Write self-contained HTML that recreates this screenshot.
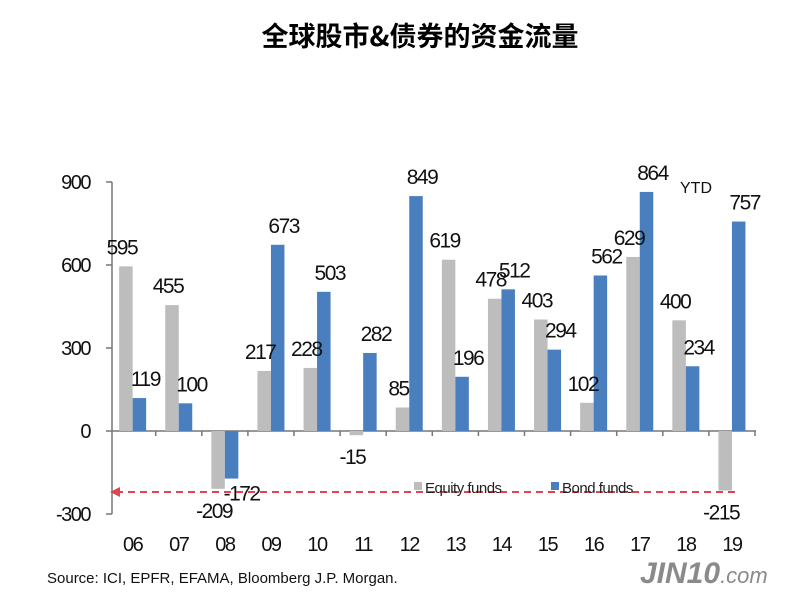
<!DOCTYPE html>
<html><head><meta charset="utf-8"><style>
body{margin:0;background:#fff}
svg text{font-family:"Liberation Sans Narrow","Liberation Sans",sans-serif}
.num{letter-spacing:-1.5px}
</style></head><body>
<svg width="800" height="596" viewBox="0 0 800 596">
<text x="420" y="46" text-anchor="middle" font-size="27" font-weight="bold" style="font-family:'Noto Sans CJK SC','Liberation Sans',sans-serif">全球股市&amp;债券的资金流量</text>
<g id="axes"></g>
<g id="bars"></g>
<g id="labels"></g>
<line x1="116" y1="492" x2="735" y2="492" stroke="#e0454f" stroke-width="2" stroke-dasharray="7,5"/>
<polygon points="110,492 120,487 120,497" fill="#e0454f"/>
<rect x="414" y="482" width="8" height="8" fill="#bdbdbd"/>
<text x="425" y="493" font-size="15" fill="#222" style="letter-spacing:-0.5px">Equity funds</text>
<rect x="551" y="482" width="8" height="8" fill="#4a7fbf"/>
<text x="562" y="493" font-size="15" fill="#222" style="letter-spacing:-0.5px">Bond funds</text>
<text x="680" y="193" font-size="16" fill="#111">YTD</text>
<text x="47" y="583" font-size="15" fill="#111" style="font-family:'Liberation Sans',sans-serif">Source:  ICI, EPFR, EFAMA, Bloomberg J.P. Morgan.</text>
<text x="640" y="583" font-size="30" font-weight="bold" font-style="italic" fill="#8a8a8a" style="font-family:'Liberation Sans',sans-serif">JIN10<tspan font-size="22" font-weight="normal">.com</tspan></text>
</svg>
<script>
const categories=["06","07","08","09","10","11","12","13","14","15","16","17","18","19"];
const equity=[595,455,-209,217,228,-15,85,619,478,403,102,629,400,-215];
const bond=[119,100,-172,673,503,282,849,196,512,294,562,864,234,757];
const yTicks=[900,600,300,0,-300];
const NS="http://www.w3.org/2000/svg";
const x0=109.6,step=46.1,bw=13.5;
function y(v){return 431-v*0.2767;}
function cx(i){return x0+step*(i+0.5);}
function mk(tag,attrs,parent,text){const e=document.createElementNS(NS,tag);for(const k in attrs)e.setAttribute(k,attrs[k]);if(text!==undefined)e.textContent=text;document.getElementById(parent).appendChild(e);return e;}
let e=mk("line",{x1:112,y1:y(900),x2:112,y2:y(-300),stroke:"#777","stroke-width":1.5},"axes");


e=mk("line",{x1:112,y1:y(0),x2:756,y2:y(0),stroke:"#777","stroke-width":1.5},"axes");


yTicks.forEach(t=>{
  let l=mk("line",{x1:106,y1:y(t),x2:112,y2:y(t),stroke:"#777","stroke-width":1.5},"axes");
  
  
  let tx=mk("text",{x:90,y:y(t)+7,"text-anchor":"end","font-size":20,fill:"#111",class:"num"},"axes",String(t));
  
  
});
categories.forEach((c,i)=>{
  let l=mk("line",{x1:x0+step*(i+1),y1:y(0),x2:x0+step*(i+1),y2:y(0)+5,stroke:"#777","stroke-width":1.5},"axes");
  
  
  let tx=mk("text",{x:cx(i),y:551,"text-anchor":"middle","font-size":20,fill:"#111",class:"num"},"axes",c);
  
  
  [[equity[i],cx(i)-bw,"#bdbdbd","equity"],[bond[i],cx(i),"#4a7fbf","bond"]].forEach(([v,bx,col,nm])=>{
    let r=mk("rect",{x:bx,y:Math.min(y(v),y(0)),width:bw,height:Math.abs(y(v)-y(0)),fill:col},"bars");
    
    
    let ly=v>=0?y(v)-12:y(v)+(nm==="equity"?29:22);
    let lx=bx+bw/2+(nm==="equity"?-4:(v<0?10:6));
    let t=mk("text",{x:lx,y:ly,"text-anchor":"middle","font-size":21,fill:"#111",class:"num"},"labels",String(v));
    
    
  });
});
</script>
</body></html>
